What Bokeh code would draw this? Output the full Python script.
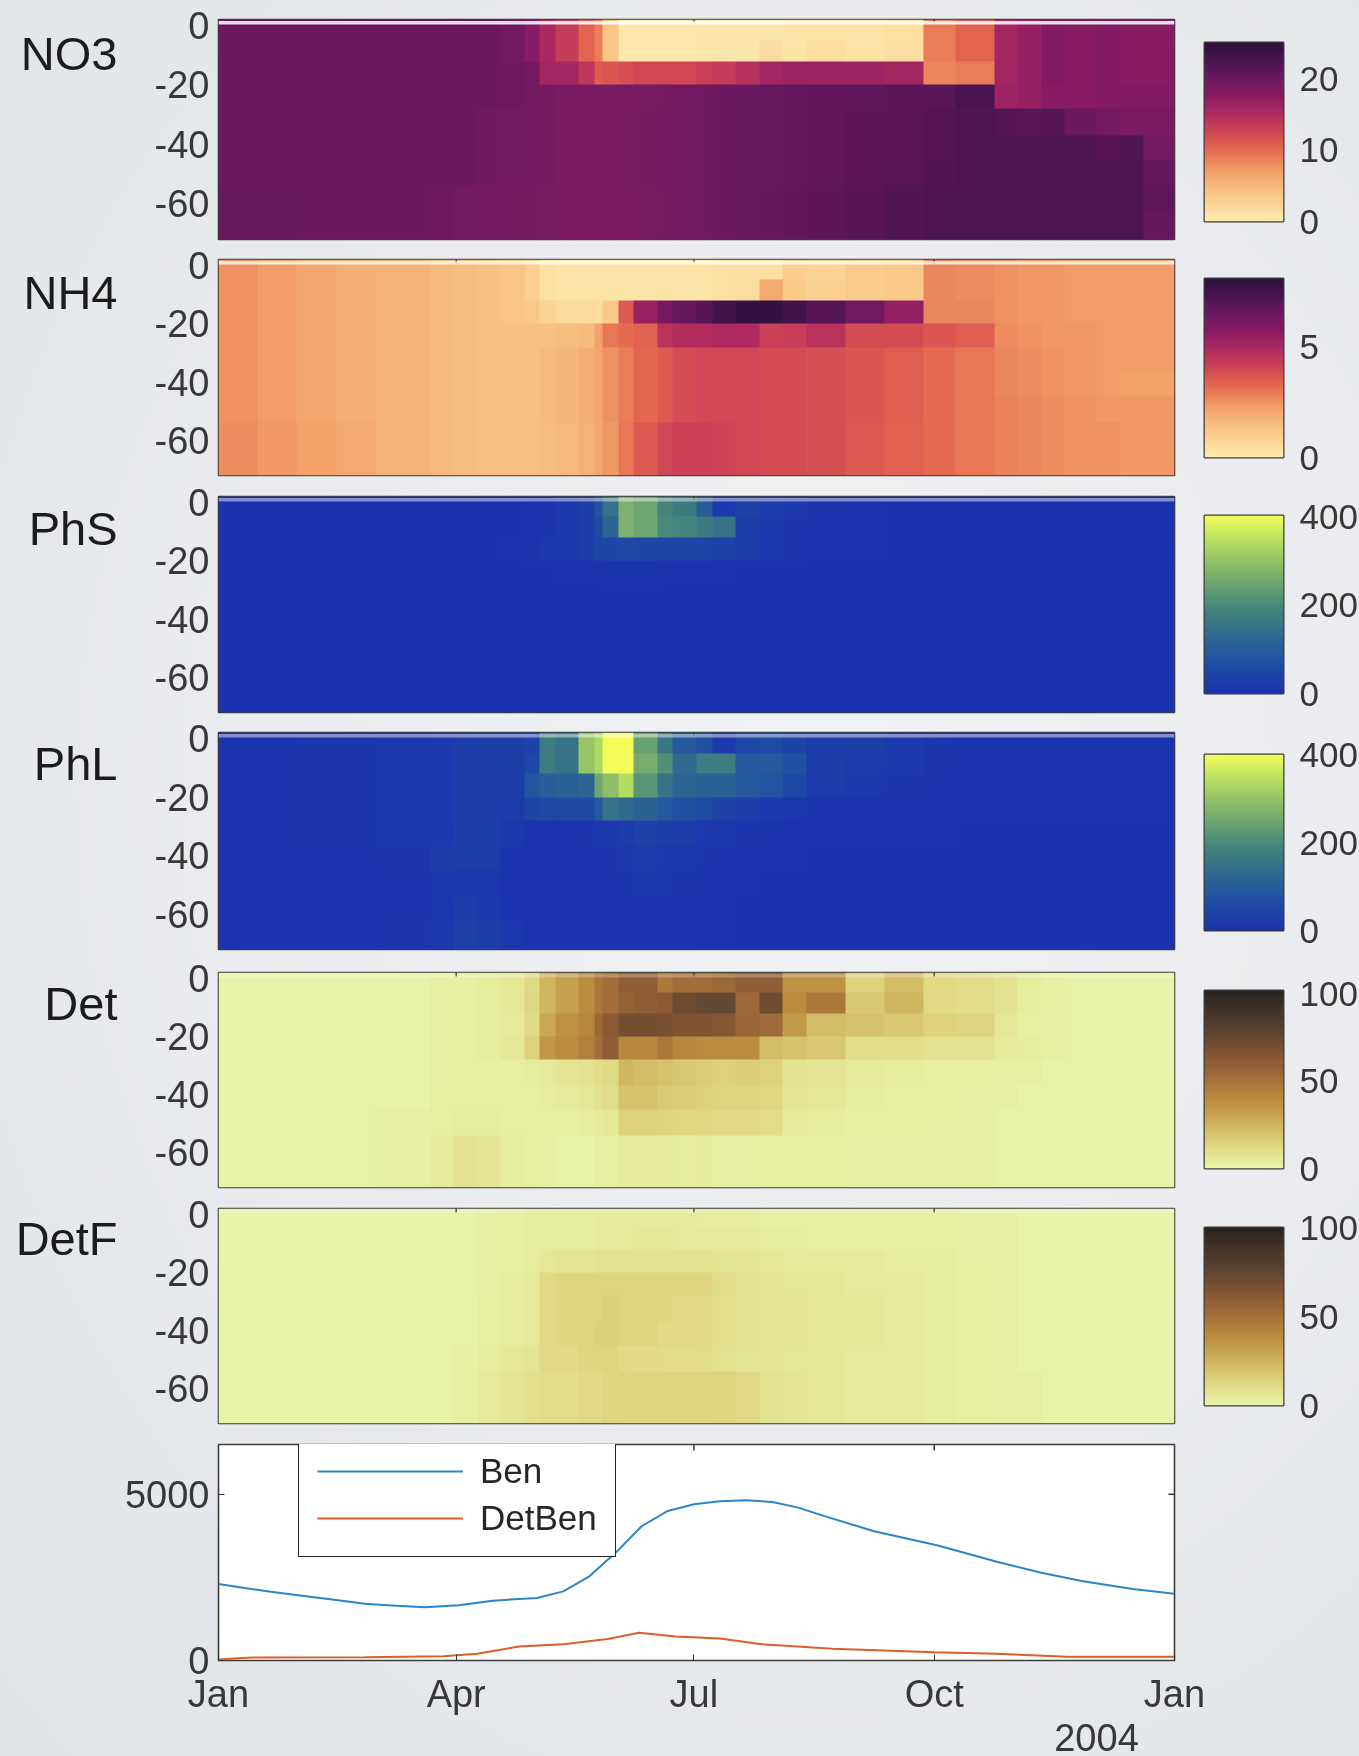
import numpy as np
from bokeh.core.properties import value
from bokeh.embed import file_html
from bokeh.resources import INLINE
from bokeh.models import (FixedTicker, Legend, LegendItem, LinearColorMapper,
                          BoxAnnotation, Range1d, GlobalInlineStyleSheet)
from bokeh.plotting import figure

FONT = "Liberation Sans"
TEXT = "#383838"
FRAME = "#3c3c3c"

# ---- data -------------------------------------------------------------
MONTH_TICKS = [0, 91, 182, 274, 365.999]
MONTH_LABELS = ["Jan", "Apr", "Jul", "Oct", "Jan"]
YEAR_LABEL = "2004"
DEPTH_TICKS = [0, -20, -40, -60]
DEPTH_LABELS = ["0", "-20", "-40", "-60"]
DEPTH_EDGES = [2, -5, -12, -20, -28, -37, -45, -54, -62, -72]
DAY_EDGES = [0, 30, 60, 80, 91, 100, 108, 116, 124, 130, 137, 143, 148, 153, 160, 167, 175,
             182, 190, 198, 207, 216, 226, 240, 255, 269, 283, 297, 306, 314, 324, 335, 345, 354, 366]
NH4_DAY_EDGES = [0, 15, 30, 45, 60, 80, 91, 100, 108, 116, 124, 130, 137, 143, 148, 153, 160, 167, 175,
                 182, 190, 198, 207, 216, 226, 240, 255, 269, 283, 297, 306, 314, 324, 335, 345, 354, 366]

NO3 = [
    [20,20,20,20,20,20,19.5,18,15.5,13.5,10.5,9,4,0.4,0.4,0.4,0.4,0.5,0.5,0.6,0.6,0.8,0.9,1,1.3,9,10.5,16,17,18.5,18,18.5,18,18],
    [20,20,20,20,20,20,19.5,18,15.5,13.5,10.5,9,4,0.4,0.4,0.4,0.4,0.5,0.5,0.6,1.6,0.8,1.4,1,1.5,9,10.5,16,17,18.5,18,18.5,18,18],
    [20,20,20,20,20,20,19.8,19.5,16,16,14,11,11.5,12,12.5,12.5,12.5,13,13.5,14.5,16,16.5,16.5,16.5,16,8.5,9,16,17,18.5,18,18.5,18,18],
    [20,20,20,20,20,20,19.8,19.5,19.3,19,19,19,19,19,19.1,19.3,19.5,19.7,20,20.2,20.4,20.6,20.8,21,21.2,21.5,22.7,16.5,17,18,18,18.5,18.5,18.5],
    [20,20,20,20,20,19.7,19.6,19.4,19.2,19,19,19,19,19.1,19.2,19.4,19.5,19.7,20,20.2,20.4,20.6,20.8,21.1,21.4,21.7,22.3,21.8,21.5,21.8,20,19.5,19,19],
    [20,20,20,20,20,19.7,19.6,19.4,19.2,19,19,19,19,19.1,19.2,19.4,19.5,19.7,20,20.2,20.4,20.6,20.8,21.1,21.4,21.7,22.3,22.5,22.5,22.5,22.3,21.8,22.3,19.5],
    [20,20,20,20,20,19.7,19.6,19.4,19.2,19,19,19,19,19.1,19.2,19.4,19.5,19.7,20,20.2,20.4,20.6,20.9,21.2,21.5,21.9,22.3,22.4,22.5,22.5,22.4,22.3,22.4,20.5],
    [20.3,20,20,19.8,19.6,19.4,19.3,19.2,19.1,19,19,19,19,19,19.1,19.3,19.5,19.7,20,20.3,20.5,20.8,21.1,21.6,22,22.3,22.5,22.5,22.5,22.5,22.5,22.4,22.4,21],
    [20.3,20,20,19.8,19.6,19.4,19.3,19.2,19.1,19,19,19,19,19,19.1,19.3,19.5,19.7,20,20.3,20.5,20.8,21.1,21.6,22,22.3,22.5,22.5,22.5,22.5,22.5,22.4,22.4,20.5],
]
NH4 = [
    [2.5,2.3,2.1,1.9,1.8,1.6,1.5,1.4,1.3,1.0,0.4,0.3,0.3,0.3,0.3,0.3,0.3,0.3,0.3,0.3,0.4,0.4,0.4,1.0,0.8,1.1,1.2,2.7,2.6,2.5,2.4,2.4,2.3,2.3,2.3,2.3],
    [2.5,2.3,2.1,1.9,1.8,1.6,1.5,1.4,1.3,1.0,0.4,0.3,0.3,0.3,0.3,0.3,0.3,0.3,0.3,0.3,0.4,0.5,2.0,1.2,0.9,1.1,1.2,2.7,2.6,2.5,2.4,2.4,2.3,2.3,2.3,2.3],
    [2.5,2.3,2.1,1.9,1.8,1.6,1.5,1.4,1.3,1.2,0.8,0.6,0.6,0.5,1.2,3.6,5.4,6.2,6.6,7.0,7.5,7.9,7.9,7.5,7.0,6.3,5.5,2.7,2.7,2.5,2.4,2.4,2.3,2.3,2.3,2.3],
    [2.5,2.3,2.1,1.9,1.8,1.6,1.5,1.4,1.4,1.4,1.4,1.5,1.6,2.2,3.0,3.2,3.4,4.6,4.8,4.8,4.9,4.9,4.2,4.3,4.6,3.9,3.9,3.7,3.5,2.6,2.5,2.4,2.4,2.3,2.3,2.3],
    [2.5,2.3,2.1,1.9,1.8,1.6,1.5,1.4,1.4,1.4,1.6,1.7,1.9,2.1,2.5,2.9,3.3,3.6,3.9,4.0,4.0,4.0,3.9,3.9,3.8,3.7,3.5,3.2,3.0,2.7,2.6,2.5,2.4,2.3,2.3,2.3],
    [2.5,2.3,2.1,1.9,1.8,1.6,1.5,1.4,1.4,1.4,1.6,1.7,1.9,2.1,2.5,2.9,3.3,3.6,3.9,4.0,4.0,4.0,3.9,3.9,3.8,3.7,3.5,3.2,3.0,2.7,2.6,2.5,2.4,2.3,2.2,2.2],
    [2.5,2.3,2.1,1.9,1.8,1.6,1.5,1.4,1.4,1.4,1.6,1.7,1.9,2.1,2.5,2.9,3.3,3.6,3.9,4.0,4.0,4.0,3.9,3.9,3.8,3.7,3.5,3.2,3.0,2.8,2.7,2.6,2.5,2.4,2.4,2.4],
    [2.6,2.4,2.2,2.0,1.8,1.6,1.5,1.4,1.4,1.4,1.5,1.6,1.8,2.0,2.4,3.0,3.6,4.0,4.2,4.2,4.1,4.0,3.9,3.9,3.8,3.6,3.4,3.2,3.0,2.8,2.7,2.6,2.5,2.5,2.4,2.4],
    [2.6,2.4,2.2,2.0,1.8,1.6,1.5,1.4,1.4,1.4,1.5,1.6,1.8,2.0,2.4,3.0,3.6,4.0,4.2,4.2,4.1,4.0,3.9,3.9,3.8,3.6,3.4,3.2,3.0,2.8,2.7,2.6,2.5,2.5,2.4,2.4],
]
PHS = [
    [0,0,0,0,0, 0,0,2,5,15, 30,80,150,270,250, 190,170,100,15,40, 20,10,5,3,0, 0,0,0,0,0, 0,0,0,0],
    [0,0,0,0,0, 0,0,2,5,15, 30,60,120,270,250, 200,190,170,150,30, 15,8,5,3,0, 0,0,0,0,0, 0,0,0,0],
    [0,0,0,0,0, 0,3,6,10,15, 30,50,50,55,50, 45,45,45,40,30, 15,8,3,2,0, 0,0,0,0,0, 0,0,0,0],
    [0,0,0,0,0, 0,0,0,0,2, 3,4,5,5,5, 4,3,3,2,1, 1,0,0,0,0, 0,0,0,0,0, 0,0,0,0],
    [0,0,0,0,0, 0,0,0,0,0, 0,0,0,0,0, 0,0,0,0,0, 0,0,0,0,0, 0,0,0,0,0, 0,0,0,0],
    [0,0,0,0,0, 0,0,0,0,0, 0,0,0,0,0, 0,0,0,0,0, 0,0,0,0,0, 0,0,0,0,0, 0,0,0,0],
    [0,0,0,0,0, 0,0,0,0,0, 0,0,0,0,0, 0,0,0,0,0, 0,0,0,0,0, 0,0,0,0,0, 0,0,0,0],
    [0,0,0,0,0, 0,0,0,0,0, 0,0,0,0,0, 0,0,0,0,0, 0,0,0,0,0, 0,0,0,0,0, 0,0,0,0],
    [0,0,0,0,0, 0,0,0,0,0, 0,0,0,0,0, 0,0,0,0,0, 0,0,0,0,0, 0,0,0,0,0, 0,0,0,0],
]
PHL = [
    [5,8,10,15,25, 30,30,40,170,150, 300,330,400,400,240, 160,90,70,15,50, 60,40,25,30,15, 8,5,5,5,5, 3,3,3,3],
    [5,8,10,15,25, 30,30,50,170,150, 300,330,400,400,260, 210,130,170,170,90, 90,70,30,20,15, 8,5,5,5,5, 3,3,3,3],
    [5,8,10,15,25, 25,30,80,100,110, 120,250,290,340,220, 150,120,110,110,90, 80,50,20,10,8, 5,3,3,3,3, 3,3,3,3],
    [5,8,10,15,25, 25,20,45,50,55, 55,90,150,130,110, 90,70,60,40,25, 15,10,5,3,3, 3,2,2,2,2, 2,2,2,2],
    [5,8,10,15,28, 28,10,5,5,5, 8,10,15,25,35, 30,25,15,10,8, 5,3,2,2,2, 2,1,1,1,1, 1,1,1,1],
    [3,5,8,25,30, 25,5,3,3,3, 3,5,8,10,20, 15,12,8,5,3, 2,2,1,1,1, 1,1,1,1,1, 1,1,1,1],
    [2,3,5,15,15, 10,3,2,2,2, 2,3,4,6,10, 10,8,5,3,2, 1,1,1,1,1, 1,1,1,1,1, 1,1,1,1],
    [2,3,5,10,25, 15,3,2,2,2, 2,2,2,3,3, 3,3,2,2,1, 1,1,1,1,1, 1,1,1,1,1, 1,1,1,1],
    [2,3,8,15,35, 30,10,3,2,2, 2,2,2,3,3, 3,3,2,2,1, 1,1,1,1,1, 1,1,1,1,1, 1,1,1,1],
]
DET = [
    [1,1,1,2,3, 4,6,12,25,32, 40,48,52,60,60, 48,52,52,55,60, 60,38,38,15,22, 12,10,8,4,2, 1,1,1,1],
    [1,1,1,2,3, 4,6,13,25,32, 40,48,52,58,60, 62,72,76,76,55, 72,40,48,18,24, 12,10,8,4,2, 1,1,1,1],
    [1,1,1,2,3, 4,5,12,30,38, 42,55,62,70,70, 68,66,66,64,56, 54,35,22,20,18, 15,14,6,3,2, 1,1,1,1],
    [1,1,1,2,3, 4,6,15,36,40, 45,52,60,42,42, 48,42,40,40,40, 22,20,18,10,10, 8,8,5,4,2, 1,1,1,1],
    [1,1,1,2,3, 3,3,4,5,7, 8,10,12,24,22, 20,18,16,15,16, 15,8,7,5,4, 3,3,2,2,1, 1,1,1,1],
    [1,1,1,3,3, 3,3,3,4,5, 6,8,10,20,20, 17,16,15,14,14, 13,7,6,4,3, 3,2,2,1,1, 1,1,1,1],
    [1,1,2,3,4, 4,3,3,3,3, 4,5,6,15,15, 14,13,13,12,12, 10,5,4,3,3, 2,2,1,1,1, 1,1,1,1],
    [1,1,2,5,8, 7,4,3,2,1, 1,2,3,5,5, 5,4,5,2,2, 3,3,3,2,2, 2,2,1,1,1, 1,1,1,1],
    [1,1,2,5,8, 7,4,3,2,1, 1,2,3,5,5, 5,4,5,2,2, 3,3,3,2,2, 2,2,1,1,1, 1,1,1,1],
]
DETF = [
    [1,1,1,1,1, 2,3,4,4,4, 4,5,5,5,5, 5,5,4,4,4, 3,3,3,3,3, 3,2,2,1,1, 1,1,1,1],
    [1,1,1,1,1, 2,3,4,4,4, 4,5,5,5,6, 6,5,5,5,5, 4,4,3,3,3, 3,2,2,1,1, 1,1,1,1],
    [1,1,1,1,1, 2,3,4,6,7, 7,8,8,8,8, 8,8,8,7,7, 6,5,5,5,4, 4,2,2,1,1, 1,1,1,1],
    [1,1,1,1,1, 2,4,5,12,13, 13,14,14,14,13, 13,13,13,10,8, 7,6,6,5,5, 4,3,2,1,1, 1,1,1,1],
    [1,1,1,1,1, 3,4,5,12,13, 13,14,15,14,13, 13,12,12,9,8, 7,7,6,6,5, 4,3,2,1,1, 1,1,1,1],
    [1,1,1,1,1, 3,4,5,12,13, 14,15,15,14,13, 12,12,11,9,8, 7,7,6,6,5, 4,3,2,1,1, 1,1,1,1],
    [1,1,1,1,2, 4,6,7,11,12, 13,14,14,12,11, 10,10,10,8,7, 7,6,6,5,5, 4,3,2,1,1, 1,1,1,1],
    [1,1,1,1,2, 5,7,9,10,10, 12,12,13,14,14, 14,14,14,13,12, 8,7,6,5,5, 4,3,2,2,1, 1,1,1,1],
    [1,1,1,1,2, 5,7,9,10,10, 12,12,13,14,14, 14,14,14,13,12, 8,7,6,5,5, 4,3,2,2,1, 1,1,1,1],
]
BEN_DAY = [0, 10, 20, 32, 45, 56, 68, 79, 92, 105, 115, 122, 132, 142, 152, 162, 172, 182, 192, 202, 212, 222, 232, 251, 275, 298, 315, 331, 350, 366]
BEN_VAL = [2304, 2180, 2070, 1950, 1820, 1710, 1650, 1600, 1660, 1800, 1850, 1880, 2080, 2535, 3240, 4040, 4500, 4700, 4790, 4820, 4770, 4600, 4345, 3890, 3470, 2970, 2640, 2385, 2150, 2010]
DETBEN_DAY = [0, 6, 13, 56, 86, 99, 115, 132, 149, 161, 175, 192, 208, 235, 274, 298, 325, 366]
DETBEN_VAL = [30, 60, 90, 100, 130, 200, 420, 490, 650, 835, 725, 665, 490, 350, 250, 200, 110, 110]

MATTER = ["#fdebaf", "#f9c887", "#f29f68", "#e5694f", "#cf4655", "#b02b5f", "#8d1c64", "#6b1860", "#4a1451", "#2f0f3d"]
MATTER_POS = [0, .15, .28, .4, .5, .6, .7, .8, .9, 1]
HALINE = ["#1b32ae", "#2150a2", "#33708a", "#4a8a7a", "#80b36c", "#b4dc62", "#f2fd5a"]
HALINE_POS = [0, .18, .36, .5, .68, .85, 1]
TURBID = ["#e8f5a8", "#e0d884", "#cfb25c", "#b88a3e", "#a5703a", "#7f5233", "#55402f", "#28231f"]
TURBID_POS = [0, .12, .25, .4, .5, .65, .8, 1]


def palette(colors, pos):
    rgb = np.array([[int(c[i:i + 2], 16) for i in (1, 3, 5)] for c in colors], float)
    t = np.linspace(0, 1, 256)
    out = np.stack([np.interp(t, pos, rgb[:, k]) for k in range(3)], axis=1).round().astype(int)
    return ["#%02x%02x%02x" % tuple(v) for v in out]


PAL_M, PAL_H, PAL_T = palette(MATTER, MATTER_POS), palette(HALINE, HALINE_POS), palette(TURBID, TURBID_POS)

FRAME_LEFT = 218
FRAME_W = 956
BAR_LEFT = 1204
BAR_W = 79
LEFT_FS = "38px"
BAR_FS = "35px"
# name, table, day edges, palette, vmax, bar ticks, frame top/bottom, bar top/bottom, surface band alpha, label centre y
PANELS = [
    ("NO3", NO3, DAY_EDGES, PAL_M, 25.2, [0, 10, 20], 19, 239, 42, 221, .85, 53),
    ("NH4", NH4, NH4_DAY_EDGES, PAL_M, 8.1, [0, 5], 259, 475, 278, 457, .75, 292),
    ("PhS", PHS, DAY_EDGES, PAL_H, 403, [0, 200, 400], 496, 712, 515, 693, .45, 528),
    ("PhL", PHL, DAY_EDGES, PAL_H, 400, [0, 200, 400], 732, 949, 754, 930, .45, 763),
    ("Det", DET, DAY_EDGES, PAL_T, 102, [0, 50, 100], 972, 1187, 990, 1168, .25, 1003),
    ("DetF", DETF, DAY_EDGES, PAL_T, 100, [0, 50, 100], 1208, 1423, 1227, 1405, .25, 1238),
]
css = GlobalInlineStyleSheet(css="html,body{background:radial-gradient(ellipse at 60% 45%,#f1f2f4 0%,#e9ebee 55%,#dfe3e7 100%) fixed;overflow:hidden}")
BLUR = "blur(0.6px)"


def place(left, top):
    return {"position": "absolute", "left": f"{left}px", "top": f"{top}px", "filter": BLUR}


def style_axis(ax, ticks, labels, standoff, size):
    ax.ticker = FixedTicker(ticks=ticks)
    ax.major_label_overrides = dict(zip(ticks, labels))
    ax.major_label_text_font = FONT
    ax.major_label_text_font_size = size
    ax.major_label_text_color = TEXT
    ax.major_label_standoff = standoff
    ax.major_tick_out = 0
    ax.minor_tick_line_color = None
    ax.axis_line_color = None


def table_image(table, edges):
    col_days = np.arange(1.5, 366, 3.0)          # each cell of the table is sampled, not blended
    row_depths = np.arange(-72 + 0.25, 2, 0.5)
    cols = np.clip(np.searchsorted(edges, col_days) - 1, 0, len(edges) - 2)
    desc = np.array(DEPTH_EDGES[::-1])
    rows_ = 8 - np.clip(np.searchsorted(desc, row_depths) - 1, 0, 8)
    arr = np.array(table, float)
    assert arr.shape == (9, len(edges) - 1), arr.shape
    return arr[np.ix_(rows_, cols)]


figs = []
for name, table, edges, pal, vmax, bar_ticks, ftop, fbot, btop, bbot, band, ly in PANELS:
    p = figure(output_backend="svg", toolbar_location=None, x_range=Range1d(0, 366), y_range=Range1d(-72, 2),
               frame_width=FRAME_W, frame_height=fbot - ftop, x_axis_location=None,
               min_border_left=FRAME_LEFT, min_border_right=4, min_border_top=10, min_border_bottom=6,
               border_fill_alpha=0, background_fill_color="white",
               outline_line_color=FRAME, outline_line_width=1.6, stylesheets=[css],
               styles=place(0, ftop - 10))
    p.grid.visible = False
    style_axis(p.yaxis[0], DEPTH_TICKS, DEPTH_LABELS, 9, LEFT_FS)
    p.yaxis[0].major_tick_in = 0
    mapper = LinearColorMapper(palette=pal, low=0, high=vmax)
    p.image(image=[table_image(table, edges)], x=0, y=-72, dw=366, dh=74, color_mapper=mapper)
    p.add_layout(BoxAnnotation(top=1.5, bottom=0.3, fill_color="white", fill_alpha=band, line_color=None))
    p.segment(x0=MONTH_TICKS[1:4], y0=[2] * 3, x1=MONTH_TICKS[1:4], y1=[0.6] * 3, line_color="#333333", line_width=1.5)
    figs.append(p)

    b = figure(output_backend="svg", toolbar_location=None, x_range=Range1d(0, 1), y_range=Range1d(0, vmax),
               frame_width=BAR_W, frame_height=bbot - btop, x_axis_location=None, y_axis_location="right",
               min_border_left=2, min_border_right=74, min_border_top=16, min_border_bottom=16,
               border_fill_alpha=0, outline_line_color=FRAME, outline_line_width=2,
               styles=place(BAR_LEFT - 2, btop - 16))
    b.grid.visible = False
    style_axis(b.yaxis[0], bar_ticks, [str(t) for t in bar_ticks], 16, BAR_FS)
    b.yaxis[0].major_tick_in = 0
    b.image(image=[np.linspace(0, vmax, 256).reshape(256, 1)], x=0, y=0, dw=1, dh=vmax, color_mapper=mapper)
    figs.append(b)

# benthic panel
q = figure(output_backend="svg", toolbar_location=None, x_range=Range1d(0, 366), y_range=Range1d(0, 6500),
           frame_width=FRAME_W, frame_height=216, min_border_left=FRAME_LEFT, min_border_right=44,
           min_border_top=10, min_border_bottom=60, border_fill_alpha=0, background_fill_color="white",
           outline_line_color=FRAME, outline_line_width=1.6, styles=place(0, 1434))
q.grid.visible = False
style_axis(q.yaxis[0], [0, 5000], ["0", "5000"], 9, LEFT_FS)
q.yaxis[0].major_tick_in = 6
q.yaxis[0].major_tick_line_color = "#333333"
style_axis(q.xaxis[0], MONTH_TICKS, MONTH_LABELS, 12, LEFT_FS)
q.xaxis[0].major_tick_in = 6
q.xaxis[0].major_tick_line_color = "#333333"
r1 = q.line(BEN_DAY, BEN_VAL, line_color="#2a86c8", line_width=2)
r2 = q.line(DETBEN_DAY, DETBEN_VAL, line_color="#d95f2b", line_width=2)
q.segment(x0=MONTH_TICKS[1:4], y0=[6500] * 3, x1=MONTH_TICKS[1:4], y1=[6320] * 3, line_color="#333333", line_width=1.5)
q.segment(x0=[363.7], y0=[5000], x1=[366], y1=[5000], line_color="#333333", line_width=1.5)
leg = Legend(items=[LegendItem(label="Ben", renderers=[r1]), LegendItem(label="DetBen", renderers=[r2])],
             location=(80, 103), glyph_width=146, glyph_height=36, label_standoff=17, padding=18, spacing=7, margin=0,
             label_text_font=FONT, label_text_font_size="35px", label_text_color="#262626",
             border_line_color="#222222", border_line_alpha=1, border_line_width=1.6, background_fill_alpha=1)
q.add_layout(leg, "center")
figs.append(q)

# free-standing texts: panel names at the left and the year under the time axis
over = figure(output_backend="svg", toolbar_location=None, x_range=Range1d(0, 1359), y_range=Range1d(1756, 0),
              frame_width=1359, frame_height=1756, x_axis_location=None, y_axis_location=None,
              min_border=0, border_fill_alpha=0, background_fill_alpha=0, outline_line_color=None,
              styles=place(0, 0))
over.grid.visible = False
over.text(x=[117] * len(PANELS), y=[P[-1] for P in PANELS], text=[P[0] for P in PANELS], text_align="right",
          text_baseline="middle", text_font=value(FONT), text_font_size=value("47px"), text_color="#1c1c1c")
over.text(x=[1096], y=[1737], text=[YEAR_LABEL], text_align="center", text_baseline="middle",
          text_font=value(FONT), text_font_size=value("38px"), text_color=TEXT)
figs.append(over)

open("out.html", "w").write(file_html(figs, INLINE))
